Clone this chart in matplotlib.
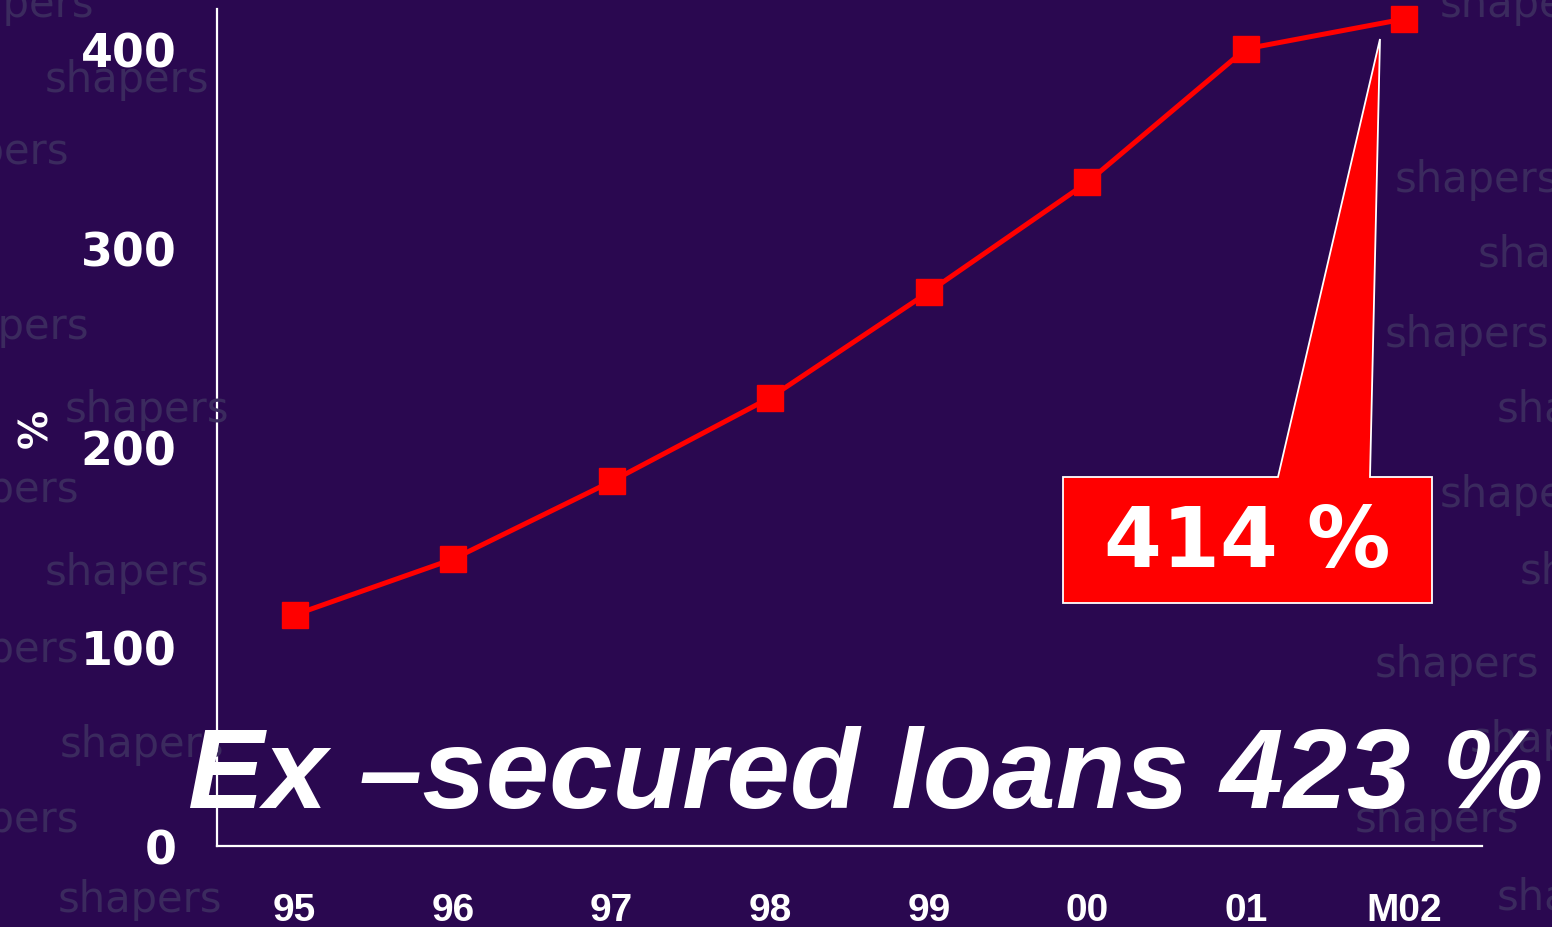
import matplotlib
matplotlib.use("Agg")
import matplotlib.pyplot as plt
from matplotlib.patches import Polygon

years = ["95", "96", "97", "98", "99", "00", "01", "M02"]
ratio = [116, 144, 183, 225, 278, 333, 400, 415]
yticks = [0, 100, 200, 300, 400]
callout_text = "414 %"
big_text = "Ex \u2013secured loans 423 %"

BG = "#2a0850"
WM = "#3b2a5e"
W, H = 1552, 928
fig = plt.figure(figsize=(W / 100, H / 100), dpi=100, facecolor=BG)

def fx(px):
    return px / W

def fy(py):
    return 1 - py / H

# watermark "shapers" text on the slide margins
wm_pos = [(-95, 152), (45, 80), (-75, 327), (65, 410), (-85, 490), (45, 573),
          (-85, 650), (60, 745), (-85, 820), (58, 900), (-70, 5),
          (1395, 180), (1478, 255), (1385, 335), (1497, 410), (1440, 495),
          (1520, 572), (1375, 665), (1470, 740), (1355, 820), (1497, 898), (1440, 5)]
for (px, py) in wm_pos:
    fig.text(fx(px), fy(py), "shapers", color=WM, fontsize=30, family="DejaVu Sans",
             ha="left", va="center", zorder=0)

ax = fig.add_axes([fx(217), fy(847), fx(1482) - fx(217), fy(10) - fy(847)])
ax.set_facecolor("none")
x = list(range(len(years)))
ax.plot(x, ratio, color="#ff0000", lw=3.6, marker="s", markersize=18.5,
        markerfacecolor="#ff0000", markeredgecolor="#ff0000", zorder=3, clip_on=False)
ax.set_xlim(-0.49, len(years) - 0.51)
ax.set_ylim(0, 420)
ax.set_xticks(x)
ax.set_xticklabels(years)
ax.set_yticks(yticks)
ax.set_yticklabels([str(v) for v in yticks])
for s in ["top", "right"]:
    ax.spines[s].set_visible(False)
for s in ["left", "bottom"]:
    ax.spines[s].set_color("white")
    ax.spines[s].set_linewidth(1.6)
ax.tick_params(length=0)
ax.tick_params(axis="y", pad=29, labelcolor="white")
ax.tick_params(axis="x", pad=46, labelcolor="white")
for lab in ax.get_yticklabels():
    lab.set_fontsize(33)
    lab.set_fontweight("bold")
    lab.set_family("DejaVu Sans")
for lab in ax.get_xticklabels():
    lab.set_fontsize(28)
    lab.set_fontweight("bold")
    lab.set_family(["Liberation Sans Narrow", "Liberation Sans", "DejaVu Sans"])
    lab.set_va("center")
fig.text(fx(36), fy(428), "%", rotation=90, color="white", fontsize=28,
         fontweight="bold", ha="center", va="center")

# callout
poly_px = [(1063, 604), (1432, 604), (1432, 478), (1370, 478), (1380, 40),
           (1278, 478), (1063, 478)]
poly = Polygon([(fx(a), fy(b)) for a, b in poly_px], closed=True,
               transform=fig.transFigure, facecolor="#ff0000", edgecolor="white",
               lw=1.3, zorder=5)
fig.add_artist(poly)

renderer = fig.canvas.get_renderer()

fig.text(fx(1247), fy(544), callout_text, color="white", fontsize=60,
         fontweight="bold", family="DejaVu Sans", ha="center", va="center", zorder=6)

t2 = fig.text(fx(188), fy(808), big_text, color="white", fontsize=70,
              fontweight="bold", fontstyle="italic",
              family=["Liberation Sans", "DejaVu Sans"], ha="left", va="baseline", zorder=6)
bb = t2.get_window_extent(renderer)
t2.set_fontsize(70 * 1357 / bb.width)

fig.savefig("out.png", dpi=100, facecolor=BG)
